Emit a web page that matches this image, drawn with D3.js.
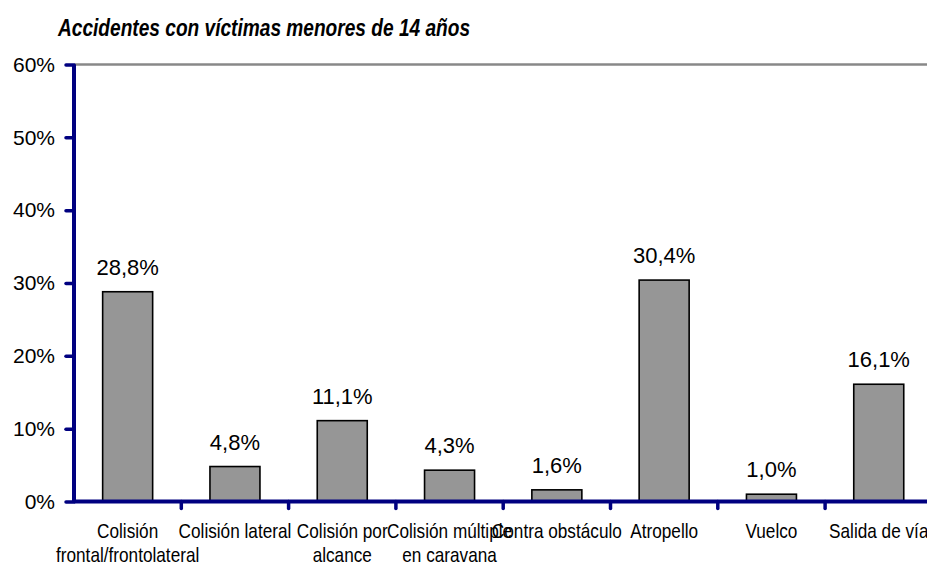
<!DOCTYPE html>
<html>
<head>
<meta charset="utf-8">
<script src="https://cdn.jsdelivr.net/npm/d3@7"></script>
<style>
  body { margin: 0; background: #fff; overflow: hidden; }
  svg { display: block; font-family: "Liberation Sans", Arial, sans-serif; }
</style>
</head>
<body>
<script>
const title = 'Accidentes con víctimas menores de 14 años'
const categories = [
  'Colisión\nfrontal/frontolateral',
  'Colisión lateral',
  'Colisión por\nalcance',
  'Colisión múltiple\nen caravana',
  'Contra obstáculo',
  'Atropello',
  'Vuelco',
  'Salida de vía'
]
const values = [28.8, 4.8, 11.1, 4.3, 1.6, 30.4, 1.0, 16.1]
const yTicks = [0, 10, 20, 30, 40, 50, 60]

const width = 927, height = 567
const plotLeft = 74, plotBottom = 501.5, plotTop = 64.5, step = 107.3
const navy = '#000080'

const es = d3.formatLocale({ decimal: ',', thousands: '.', grouping: [3], currency: ['', '€'] })
const fmt = es.format('.1f')

const svg = d3.select('body')
  .append('svg')
  .attr('width', width)
  .attr('height', height)

const x = d3.scaleBand()
  .domain(categories)
  .range([plotLeft, plotLeft + step * categories.length])
  .paddingInner(0.534)
  .paddingOuter(0.267)

const y = d3.scaleLinear()
  .domain([0, 60])
  .range([plotBottom, plotTop])

// title
svg.append('text')
  .attr('transform', 'translate(58,36) scale(0.78,1)')
  .attr('font-size', 24.5)
  .attr('font-weight', 'bold')
  .attr('font-style', 'italic')
  .attr('fill', '#000')
  .text(title)

// top gridline
svg.append('line')
  .attr('x1', plotLeft).attr('x2', width)
  .attr('y1', y(60)).attr('y2', y(60))
  .attr('stroke', '#888')
  .attr('stroke-width', 2.5)

// bars
svg.append('g')
  .selectAll('rect').data(values).enter()
  .append('rect')
  .attr('x', (d, i) => x(categories[i]))
  .attr('y', d => y(d))
  .attr('width', x.bandwidth())
  .attr('height', d => y(0) - y(d))
  .attr('fill', '#969696')
  .attr('stroke', '#000')
  .attr('stroke-width', 1.6)

// value labels
svg.append('g')
  .attr('text-anchor', 'middle')
  .attr('font-size', 22)
  .selectAll('text').data(values).enter()
  .append('text')
  .attr('x', (d, i) => x(categories[i]) + x.bandwidth() / 2)
  .attr('y', d => y(d) - 17)
  .text(d => fmt(d) + '%')

// y axis
const yAxis = svg.append('g')
  .attr('transform', `translate(${plotLeft},0)`)
  .call(d3.axisLeft(y).tickValues(yTicks).tickSize(8).tickPadding(11).tickFormat(d => d + '%'))
yAxis.select('.domain')
  .attr('d', `M0,${plotTop}V${plotBottom}`)
  .attr('stroke', navy)
  .attr('stroke-width', 4)
yAxis.selectAll('.tick line')
  .attr('stroke', navy)
  .attr('stroke-width', 3.5)
  .attr('stroke-linecap', 'round')
yAxis.selectAll('.tick text')
  .attr('font-size', 21)
  .attr('fill', '#000')
  .attr('font-family', '"Liberation Sans", Arial, sans-serif')

// x axis
const gap = x.step() - x.bandwidth()
const bounds = categories.map(c => x(c) - gap / 2).concat([x(categories[categories.length - 1]) + x.bandwidth() + gap / 2])
const xAxis = svg.append('g')
xAxis.selectAll('line.tick').data(bounds.slice(1)).enter()
  .append('line')
  .attr('x1', d => d).attr('x2', d => d)
  .attr('y1', plotBottom).attr('y2', plotBottom + 7)
  .attr('stroke', navy)
  .attr('stroke-width', 3.5)
  .attr('stroke-linecap', 'round')
xAxis.append('line')
  .attr('x1', plotLeft).attr('x2', width + 10)
  .attr('y1', plotBottom).attr('y2', plotBottom)
  .attr('stroke', navy)
  .attr('stroke-width', 4)

// category labels (overlap as in the original)
const cat = svg.append('g')
  .attr('font-size', 20)
  .attr('text-anchor', 'middle')
  .selectAll('g').data(categories).enter()
  .append('g')
  .attr('transform', d => `translate(${x(d) + x.bandwidth() / 2},538) scale(0.86,1)`)
cat.selectAll('text').data(d => d.split('\n')).enter()
  .append('text')
  .attr('y', (d, i) => i * 24)
  .text(d => d)
</script>
</body>
</html>
